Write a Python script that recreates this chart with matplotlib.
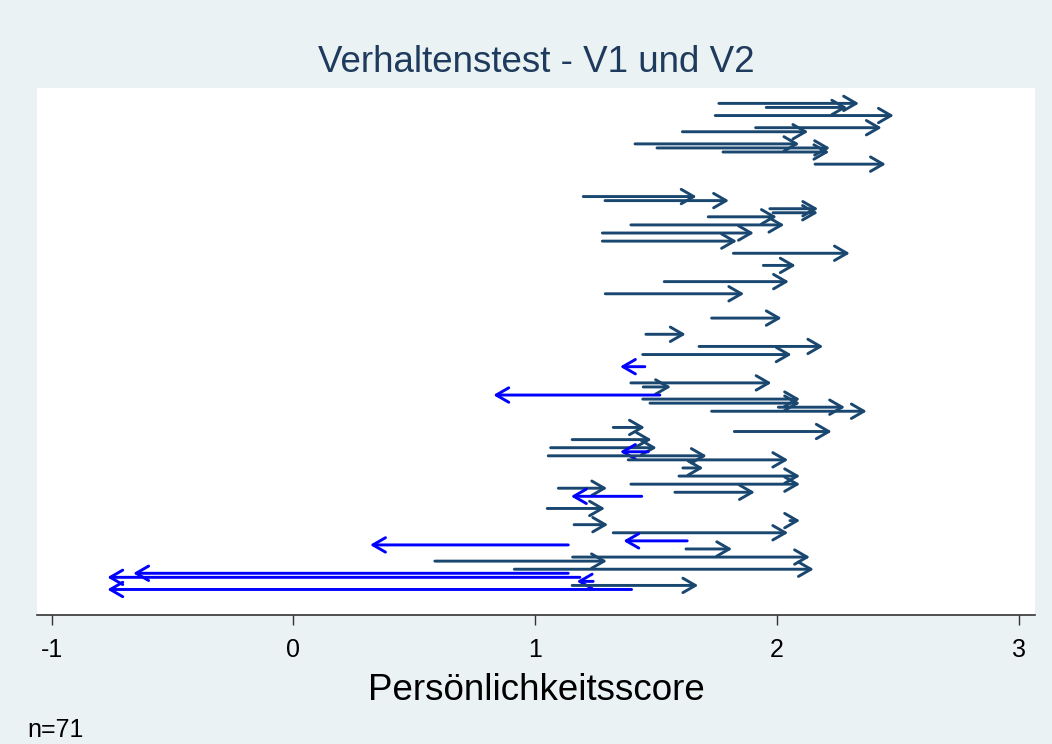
import matplotlib
matplotlib.use("Agg")
import matplotlib.pyplot as plt

# ---- data -------------------------------------------------------------
subject_pos = [1, 2, 4, 7, 8, 11, 12, 13, 16, 24, 25, 27, 28, 29, 31, 33, 35, 38,
               41, 45, 48, 54, 58, 61, 63, 66, 70, 71, 73, 74, 75, 76, 77, 81, 82,
               84, 86, 87, 88, 89, 91, 93, 95, 96, 97, 98, 101, 104, 105, 107, 109,
               110, 111, 113, 114, 116, 117, 118, 119, 120, 121]
score_v1 = [1.760, 1.956, 1.745, 1.912, 1.609, 1.413, 1.504, 1.777, 2.158, 1.199,
            1.289, 1.971, 1.984, 1.716, 1.396, 1.278, 1.278, 1.820, 1.944, 1.534,
            1.290, 1.730, 1.458, 1.678, 1.445, 1.454, 1.396, 1.447, 1.516, 1.445,
            1.475, 2.006, 1.730, 1.323, 1.824, 1.153, 1.064, 1.468, 1.054, 1.385,
            1.611, 1.595, 1.396, 1.096, 1.578, 1.441, 1.050, 2.054, 1.161, 1.323,
            1.629, 1.137, 1.624, 1.155, 0.585, 0.914, 1.137, 1.185, 1.240, 1.153,
            1.399]
score_v2 = [2.340, 2.291, 2.484, 2.434, 2.130, 2.093, 2.220, 2.217, 2.451, 1.668,
            1.802, 2.171, 2.170, 2.000, 2.031, 1.905, 1.835, 2.302, 2.078, 2.050,
            1.865, 2.020, 1.623, 2.192, 2.061, 1.351, 1.978, 1.562, 0.827, 2.096,
            2.096, 2.282, 2.372, 1.454, 2.227, 1.482, 1.503, 1.351, 1.710, 2.047,
            1.696, 2.096, 2.096, 1.298, 1.909, 1.148, 1.289, 2.096, 1.302, 2.047,
            1.365, 0.317, 1.815, 2.137, 1.297, 2.153, -0.663, -0.770, 1.172, 1.675,
            -0.770]
x_ticks = [-1, 0, 1, 2, 3]
title_text = "Verhaltenstest - V1 und V2"
x_label = "Persönlichkeitsscore"
note_text = "n=71"

# ---- style ------------------------------------------------------------
plt.rcParams["font.family"] = ["Liberation Sans", "DejaVu Sans"]
BG = "#EAF2F3"
UP = "#1A476F"
DOWN = "#0000FF"

W, H = 1052, 744
fig = plt.figure(figsize=(W / 100, H / 100), dpi=100, facecolor=BG)
left, right, top, bottom = 37, 1035, 88, 615
ax = fig.add_axes([left / W, 1 - bottom / H, (right - left) / W, (bottom - top) / H])
ax.set_facecolor("white")

for y, a, b in zip(subject_pos, score_v1, score_v2):
    col = DOWN if b < a else UP
    ax.annotate("", xy=(b, y), xytext=(a, y),
                arrowprops=dict(arrowstyle="->,head_length=0.45,head_width=0.26",
                                mutation_scale=20, lw=2.1, color=col,
                                shrinkA=0, shrinkB=0))

ax.set_xlim(-1.061, 3.068)
ax.set_ylim(127.3, -2.8)
ax.set_xticks(x_ticks)
ax.set_xticklabels([str(t) for t in x_ticks], fontsize=18)
ax.set_yticks([])
for s in ["top", "right", "left"]:
    ax.spines[s].set_visible(False)
ax.spines["bottom"].set_color("#333333")
ax.spines["bottom"].set_linewidth(1.2)
ax.tick_params(axis="x", direction="out", length=7.5, width=1.0, color="#333333",
               pad=9, labelcolor="black")

fig.text(536 / W, 1 - 63 / H, title_text, ha="center", va="center",
         fontsize=26.5, color="#1E3A5C")
fig.text(536 / W, 1 - 690 / H, x_label, ha="center", va="center",
         fontsize=26.5, color="black")
fig.text(27 / W, 2 / H, note_text, ha="left", va="bottom", fontsize=18, color="black")

fig.savefig("out.png", dpi=100, facecolor=BG)
